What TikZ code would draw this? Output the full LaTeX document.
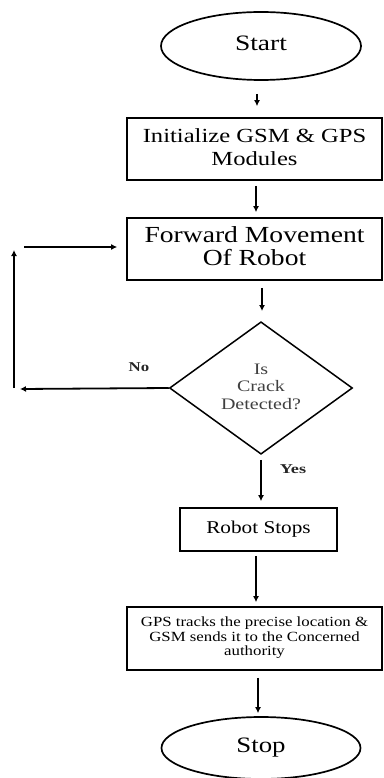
\documentclass[tikz,border=0pt]{standalone}
\usepackage{fontspec}
\usepackage{graphicx}
\setmainfont{Liberation Serif}
\usetikzlibrary{shapes.geometric,arrows.meta}
\newcommand\hstretch[2]{\scalebox{#1}[1]{\begin{tabular}{@{}c@{}}#2\end{tabular}}}
\begin{document}
\begin{tikzpicture}[x=1pt,y=1pt,
  term/.style={draw,ellipse,line width=1.7pt,inner sep=0pt},
  procbox/.style={draw,rectangle,line width=1.7pt,inner sep=0pt,align=center},
  decide/.style={draw,diamond,line width=1.5pt,inner sep=0pt,align=center},
  arr/.style={line width=1.8pt,-{Latex[length=6pt,width=6pt]}},
  lbl/.style={font=\bfseries\fontsize{13.5}{15}\selectfont,text=black!85}]
\useasboundingbox (0,0) rectangle (383,-778);
\node[term,minimum width=200,minimum height=68,font=\fontsize{22}{24}\selectfont] (start) at (261,-46) {\raisebox{4pt}{\hstretch{1.25}{Start}}};
\node[procbox,minimum width=255,minimum height=62,font=\fontsize{20}{23}\selectfont] (init) at (254.5,-149) {\raisebox{3pt}{\hstretch{1.23}{Initialize GSM \& GPS\\Modules}}};
\node[procbox,minimum width=255,minimum height=62,font=\fontsize{23}{22.5}\selectfont] (fwd) at (254.5,-249) {\hstretch{1.2}{Forward Movement\\Of Robot}};
\node[decide,minimum width=183,minimum height=127,font=\fontsize{16}{17.5}\selectfont,text=black!75] (dia) at (261,-388) {\hstretch{1.25}{Is\\Crack\\Detected?}};
\node[procbox,minimum width=157,minimum height=43,font=\fontsize{18}{20}\selectfont] (stops) at (258.5,-529.5) {\raisebox{6pt}{\hstretch{1.18}{Robot Stops}}};
\node[procbox,minimum width=255,minimum height=63,font=\fontsize{14}{14.5}\selectfont] (gps) at (254.5,-638.5) {\hstretch{1.2}{GPS tracks the precise location \&\\GSM sends it to the Concerned\\authority}};
\node[term,minimum width=199,minimum height=62,font=\fontsize{22}{24}\selectfont] (stop) at (261,-748) {\raisebox{4pt}{\hstretch{1.22}{Stop}}};
\draw[arr,shorten <=13pt,shorten >=11pt] (start.south -| 257,0) -- (init.north -| 257,0);
\draw[arr,shorten <=5pt,shorten >=5pt] (init.south -| 256,0) -- (fwd.north -| 256,0);
\draw[arr,shorten <=7pt,shorten >=10pt] (fwd.south -| 262,0) -- (dia.north -| 262,0);
\draw[arr,shorten <=5pt,shorten >=6pt] (dia.south -| 261,0) -- (stops.north -| 261,0);
\draw[arr,shorten <=4pt,shorten >=4pt] (stops.south -| 256,0) -- (gps.north -| 256,0);
\draw[arr,shorten <=7pt,shorten >=3pt] (gps.south -| 258,0) -- (stop.north -| 258,0);
\coordinate (noend) at (20,-389);
\coordinate (upbot) at (14,-388);
\coordinate (uptop) at (14,-250);
\coordinate (hleft) at (24,-247);
\draw[arr] (dia.west) -- (noend);
\draw[arr] (upbot) -- (uptop);
\draw[arr,shorten >=9pt] (hleft) -- (fwd.west |- hleft);
\node[lbl] (nolbl) at (139,-368) {\hstretch{1.25}{No}};
\node[lbl] (yeslbl) at (293,-470) {\hstretch{1.35}{Yes}};
\end{tikzpicture}
\end{document}
